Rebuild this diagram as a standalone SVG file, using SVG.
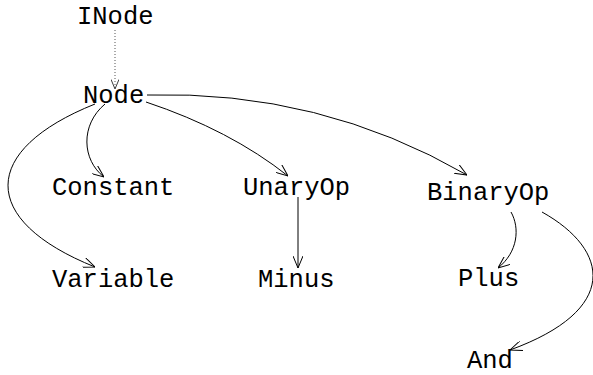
<svg xmlns="http://www.w3.org/2000/svg" width="593" height="375" viewBox="0 0 593 375">
  <style>
    .lbl { font-family: "Liberation Mono", "Courier New", monospace; font-size: 25.5px; fill: #000; }
    .edge { fill: none; stroke: #000; stroke-width: 1; marker-end: url(#arrow); }
    .dotted { fill: none; stroke: #555; stroke-width: 1; stroke-dasharray: 1 2; marker-end: url(#arrowg); }
  </style>
  <defs>
    <marker id="arrow" viewBox="0 0 12 10" refX="12" refY="5" markerWidth="12" markerHeight="10" markerUnits="userSpaceOnUse" orient="auto">
      <path d="M0,0 L12,5 L0,10" fill="none" stroke="#000" stroke-width="1"/>
    </marker>
    <marker id="arrowg" viewBox="0 0 12 10" refX="12" refY="5" markerWidth="10" markerHeight="8" markerUnits="userSpaceOnUse" orient="auto">
      <path d="M0,0 L12,5 L0,10" fill="none" stroke="#333" stroke-width="1.2"/>
    </marker>
  </defs>

  <g id="connectors">
    <path class="dotted" d="M115,30 L115,89"/>
    <path class="edge" d="M95,104 C-20,150 -22,220 95,267"/>
    <path class="edge" d="M105,104 C80,125 82,160 104,177"/>
    <path class="edge" d="M146,102 Q230,130 288,176"/>
    <path class="edge" d="M147,95 Q320,90 467,175"/>
    <path class="edge" d="M298,197 L298,268"/>
    <path class="edge" d="M511,212 C520,228 518,252 498,268"/>
    <path class="edge" d="M542,212 C610,250 620,310 510,350"/>
  </g>

  <g id="inode"><text class="lbl" x="77" y="24">INode</text></g>
  <g id="node"><text class="lbl" x="83" y="103">Node</text></g>
  <g id="constant"><text class="lbl" x="52" y="195">Constant</text></g>
  <g id="unaryop"><text class="lbl" x="243" y="195">UnaryOp</text></g>
  <g id="binaryop"><text class="lbl" x="427" y="200">BinaryOp</text></g>
  <g id="variable"><text class="lbl" x="52" y="287">Variable</text></g>
  <g id="minus"><text class="lbl" x="258" y="287">Minus</text></g>
  <g id="plus"><text class="lbl" x="458" y="286">Plus</text></g>
  <g id="and"><text class="lbl" x="467" y="368">And</text></g>
</svg>
